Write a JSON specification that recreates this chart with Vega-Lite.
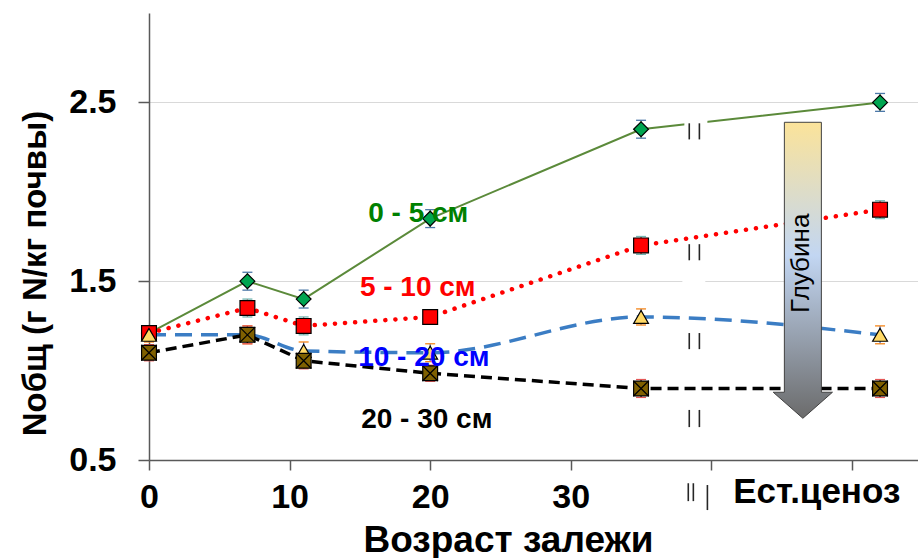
{
  "$schema": "https://vega.github.io/schema/vega-lite/v6.json",
  "width": 769,
  "height": 447,
  "autosize": {"type": "none"},
  "padding": {"left": 149, "top": 13, "right": 0, "bottom": 98},
  "background": "white",
  "config": {"view": {"stroke": null}, "font": "Liberation Sans"},
  "datasets": {
    "nitrogen": [
      {"s": "0 - 5 см", "x": 0, "y": 1.21, "lo": 1.17, "hi": 1.25},
      {"s": "0 - 5 см", "x": 7, "y": 1.5, "lo": 1.45, "hi": 1.55},
      {"s": "0 - 5 см", "x": 11, "y": 1.4, "lo": 1.35, "hi": 1.45},
      {"s": "0 - 5 см", "x": 20, "y": 1.85, "lo": 1.8, "hi": 1.9},
      {"s": "0 - 5 см", "x": 35, "y": 2.35, "lo": 2.3, "hi": 2.4},
      {"s": "0 - 5 см", "x": 52, "y": 2.5, "lo": 2.45, "hi": 2.55},
      {"s": "5 - 10 см", "x": 0, "y": 1.21, "lo": 1.17, "hi": 1.25},
      {"s": "5 - 10 см", "x": 7, "y": 1.35, "lo": 1.3, "hi": 1.4},
      {"s": "5 - 10 см", "x": 11, "y": 1.25, "lo": 1.2, "hi": 1.3},
      {"s": "5 - 10 см", "x": 20, "y": 1.3, "lo": 1.26, "hi": 1.34},
      {"s": "5 - 10 см", "x": 35, "y": 1.7, "lo": 1.65, "hi": 1.75},
      {"s": "5 - 10 см", "x": 52, "y": 1.9, "lo": 1.85, "hi": 1.95},
      {"s": "10 - 20 см", "x": 0, "y": 1.2, "lo": 1.16, "hi": 1.24},
      {"s": "10 - 20 см", "x": 7, "y": 1.2, "lo": 1.15, "hi": 1.25},
      {"s": "10 - 20 см", "x": 11, "y": 1.11, "lo": 1.06, "hi": 1.16},
      {"s": "10 - 20 см", "x": 20, "y": 1.1, "lo": 1.05, "hi": 1.15},
      {"s": "10 - 20 см", "x": 35, "y": 1.3, "lo": 1.255, "hi": 1.345},
      {"s": "10 - 20 см", "x": 52, "y": 1.2, "lo": 1.15, "hi": 1.25},
      {"s": "20 - 30 см", "x": 0, "y": 1.1, "lo": 1.055, "hi": 1.145},
      {"s": "20 - 30 см", "x": 7, "y": 1.2, "lo": 1.15, "hi": 1.25},
      {"s": "20 - 30 см", "x": 11, "y": 1.055, "lo": 1.01, "hi": 1.1},
      {"s": "20 - 30 см", "x": 20, "y": 0.985, "lo": 0.94, "hi": 1.03},
      {"s": "20 - 30 см", "x": 35, "y": 0.9, "lo": 0.85, "hi": 0.95},
      {"s": "20 - 30 см", "x": 52, "y": 0.9, "lo": 0.85, "hi": 0.95}
    ],
    "labels": [
      {"text": "0 - 5 см", "x": 15.59, "y": 1.83},
      {"text": "5 - 10 см", "x": 15.0, "y": 1.416},
      {"text": "10 - 20 см", "x": 14.88, "y": 1.025},
      {"text": "20 - 30 см", "x": 15.09, "y": 0.679}
    ],
    "patches": [
      {"x": 37.94, "x2": 39.57, "y": 1.485, "y2": 1.515},
      {"x": 38.08, "x2": 39.72, "y": 2.35, "y2": 2.42}
    ],
    "breaks": [
      {"x": 38.43, "y": 2.293, "y2": 2.383},
      {"x": 39.15, "y": 2.293, "y2": 2.383},
      {"x": 38.43, "y": 1.617, "y2": 1.707},
      {"x": 39.15, "y": 1.617, "y2": 1.707},
      {"x": 38.43, "y": 1.12, "y2": 1.21},
      {"x": 39.15, "y": 1.12, "y2": 1.21},
      {"x": 38.43, "y": 0.684, "y2": 0.78},
      {"x": 39.15, "y": 0.684, "y2": 0.78},
      {"x": 38.36, "y": 0.27, "y2": 0.37},
      {"x": 38.72, "y": 0.27, "y2": 0.37},
      {"x": 39.72, "y": 0.22, "y2": 0.36}
    ],
    "arrow": [{"x": 46.51, "y": 1.561}],
    "arrowtext": [{"x": 46.4, "y": 1.6, "text": "Глубина"}],
    "cenosis": [{"x": 47.5, "y": 0.26, "text": "Ест.ценоз"}]
  },
  "layer": [
    {
      "data": {"name": "nitrogen"},
      "transform": [{"filter": "datum.s == '0 - 5 см'"}],
      "mark": {"type": "line", "color": "#5B8A3A", "strokeWidth": 2},
      "encoding": {
        "x": {
          "field": "x", "type": "quantitative",
          "scale": {"domain": [0, 54.7], "nice": false, "zero": false},
          "axis": {
            "title": "Возраст  залежи",
            "values": [0, 10, 20, 30, 40, 50],
            "labelExpr": "datum.value <= 30 ? datum.label : ''",
            "labelFont": "Liberation Sans", "labelFontWeight": "bold", "labelFontSize": 34, "labelColor": "#000000",
            "labelPadding": 10, "labelFlush": false, "labelOverlap": false,
            "tickSize": 10, "tickColor": "#595959", "tickWidth": 1.5,
            "domainColor": "#595959", "domainWidth": 1.5, "grid": false,
            "titleFont": "Liberation Sans", "titleFontWeight": "bold", "titleFontSize": 37, "titleColor": "#000000",
            "titleX": 359, "titleY": 91, "titleBaseline": "alphabetic", "titleAlign": "center"
          }
        },
        "y": {
          "field": "y", "type": "quantitative",
          "scale": {"domain": [0.5, 3.0], "nice": false, "zero": false},
          "axis": {
            "title": "Nобщ (г N/кг почвы)",
            "values": [0.5, 1.5, 2.5], "format": ".1f",
            "labelFont": "Liberation Sans", "labelFontWeight": "bold", "labelFontSize": 34, "labelColor": "#000000",
            "labelPadding": 22, "tickSize": 11, "tickColor": "#595959", "tickWidth": 1.5,
            "grid": true, "gridColor": "#D9D9D9", "gridWidth": 1.2,
            "domainColor": "#595959", "domainWidth": 1.5,
            "titleFont": "Liberation Sans", "titleFontWeight": "bold", "titleFontSize": 33, "titleColor": "#000000",
            "titleX": -104, "titleY": 260, "titleAngle": 270, "titleBaseline": "alphabetic", "titleAlign": "center"
          }
        }
      }
    },
    {
      "data": {"name": "nitrogen"},
      "transform": [{"filter": "datum.s == '5 - 10 см'"}],
      "mark": {"type": "line", "color": "#FF0000", "strokeWidth": 4.5, "strokeDash": [0.1, 10], "strokeCap": "round"},
      "encoding": {"x": {"field": "x", "type": "quantitative"}, "y": {"field": "y", "type": "quantitative"}}
    },
    {
      "data": {"name": "nitrogen"},
      "transform": [{"filter": "datum.s == '10 - 20 см'"}],
      "mark": {"type": "line", "color": "#3B7DC4", "strokeWidth": 3.5, "strokeDash": [17, 9], "interpolate": "monotone"},
      "encoding": {"x": {"field": "x", "type": "quantitative"}, "y": {"field": "y", "type": "quantitative"}}
    },
    {
      "data": {"name": "nitrogen"},
      "transform": [{"filter": "datum.s == '20 - 30 см'"}],
      "mark": {"type": "line", "color": "#000000", "strokeWidth": 3.5, "strokeDash": [11, 6]},
      "encoding": {"x": {"field": "x", "type": "quantitative"}, "y": {"field": "y", "type": "quantitative"}}
    },
    {
      "data": {"name": "patches"},
      "mark": {"type": "rect", "fill": "#FFFFFF"},
      "encoding": {
        "x": {"field": "x", "type": "quantitative"}, "x2": {"field": "x2"},
        "y": {"field": "y", "type": "quantitative"}, "y2": {"field": "y2"}
      }
    },
    {
      "data": {"name": "breaks"},
      "mark": {"type": "rule", "color": "#262626", "strokeWidth": 1.6},
      "encoding": {
        "x": {"field": "x", "type": "quantitative"},
        "y": {"field": "y", "type": "quantitative"}, "y2": {"field": "y2"}
      }
    },
    {
      "data": {"name": "nitrogen"},
      "mark": {"type": "rule", "strokeWidth": 1.3},
      "encoding": {
        "x": {"field": "x", "type": "quantitative"},
        "y": {"field": "lo", "type": "quantitative"}, "y2": {"field": "hi"},
        "stroke": {"field": "s", "type": "nominal", "legend": null,
          "scale": {"domain": ["0 - 5 см", "5 - 10 см", "10 - 20 см", "20 - 30 см"], "range": ["#6E9A4E", "#FF0000", "#4A6FC0", "#000000"]}}
      }
    },
    {
      "data": {"name": "nitrogen"},
      "mark": {"type": "point", "shape": "stroke", "size": 100, "strokeWidth": 1.3, "filled": false, "opacity": 1},
      "encoding": {
        "x": {"field": "x", "type": "quantitative"},
        "y": {"field": "lo", "type": "quantitative"},
        "stroke": {"field": "s", "type": "nominal", "legend": null}
      }
    },
    {
      "data": {"name": "nitrogen"},
      "mark": {"type": "point", "shape": "stroke", "size": 100, "strokeWidth": 1.3, "filled": false, "opacity": 1},
      "encoding": {
        "x": {"field": "x", "type": "quantitative"},
        "y": {"field": "hi", "type": "quantitative"},
        "stroke": {"field": "s", "type": "nominal", "legend": null}
      }
    },
    {
      "data": {"name": "nitrogen"},
      "mark": {"type": "point", "filled": true, "opacity": 1, "stroke": "#000000", "strokeWidth": 1.2},
      "encoding": {
        "x": {"field": "x", "type": "quantitative"},
        "y": {"field": "y", "type": "quantitative"},
        "shape": {"field": "s", "type": "nominal", "legend": null,
          "scale": {"domain": ["0 - 5 см", "5 - 10 см", "10 - 20 см", "20 - 30 см"], "range": ["diamond", "square", "triangle-up", "square"]}},
        "fill": {"field": "s", "type": "nominal", "legend": null,
          "scale": {"domain": ["0 - 5 см", "5 - 10 см", "10 - 20 см", "20 - 30 см"], "range": ["#00A550", "#FF0000", "#FFD966", "#7F6000"]}},
        "size": {"field": "s", "type": "nominal", "legend": null,
          "scale": {"domain": ["0 - 5 см", "5 - 10 см", "10 - 20 см", "20 - 30 см"], "range": [220, 220, 210, 260]}}
      }
    },
    {
      "data": {"name": "nitrogen"},
      "transform": [{"filter": "datum.s == '20 - 30 см'"}],
      "mark": {"type": "point", "shape": "M-1,-1L1,1M1,-1L-1,1", "size": 240, "filled": false, "stroke": "#000000", "strokeWidth": 1.2, "opacity": 1},
      "encoding": {"x": {"field": "x", "type": "quantitative"}, "y": {"field": "y", "type": "quantitative"}}
    },
    {
      "data": {"name": "labels"},
      "mark": {"type": "text", "align": "left", "baseline": "alphabetic", "font": "Liberation Sans", "fontWeight": "bold", "fontSize": 28},
      "encoding": {
        "x": {"field": "x", "type": "quantitative"},
        "y": {"field": "y", "type": "quantitative"},
        "text": {"field": "text"},
        "fill": {"field": "text", "type": "nominal", "legend": null,
          "scale": {"domain": ["0 - 5 см", "5 - 10 см", "10 - 20 см", "20 - 30 см"], "range": ["#008000", "#FF0000", "#0000FF", "#000000"]}}
      }
    },
    {
      "data": {"name": "cenosis"},
      "mark": {"type": "text", "align": "center", "baseline": "alphabetic", "font": "Liberation Sans", "fontWeight": "bold", "fontSize": 35, "color": "#000000"},
      "encoding": {
        "x": {"field": "x", "type": "quantitative"},
        "y": {"field": "y", "type": "quantitative"},
        "text": {"field": "text"}
      }
    },
    {
      "data": {"name": "arrow"},
      "mark": {
        "type": "point",
        "shape": "M-0.125,-1L0.125,-1L0.125,0.824L0.2,0.824L0,1L-0.2,0.824L-0.125,0.824Z",
        "size": 87616, "filled": true, "opacity": 1,
        "fill": {"gradient": "linear", "x1": 0, "y1": 0, "x2": 0, "y2": 1,
          "stops": [{"offset": 0, "color": "#FBE39A"}, {"offset": 0.45, "color": "#C2D6F2"}, {"offset": 1, "color": "#6B6B6B"}]},
        "stroke": "#404040", "strokeWidth": 1
      },
      "encoding": {"x": {"field": "x", "type": "quantitative"}, "y": {"field": "y", "type": "quantitative"}}
    },
    {
      "data": {"name": "arrowtext"},
      "mark": {"type": "text", "angle": 270, "align": "center", "baseline": "middle", "font": "Liberation Sans", "fontSize": 26, "color": "#000000"},
      "encoding": {
        "x": {"field": "x", "type": "quantitative"},
        "y": {"field": "y", "type": "quantitative"},
        "text": {"field": "text"}
      }
    }
  ],
  "resolve": {"scale": {"fill": "independent", "stroke": "independent", "shape": "independent", "size": "independent"}}
}
